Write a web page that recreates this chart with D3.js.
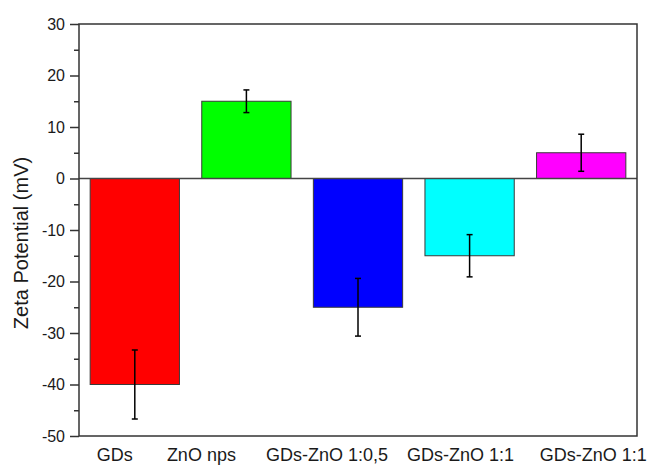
<!DOCTYPE html>
<html>
<head>
<meta charset="utf-8">
<script src="https://cdn.jsdelivr.net/npm/d3@7"></script>
<style>
  body { margin: 0; background: #fff; }
  svg { display: block; font-family: 'Liberation Sans', Arial, sans-serif; }
</style>
</head>
<body>
<div id="chart"></div>
<script>
// chart data
var samples    = ['GDs', 'ZnO nps', 'GDs-ZnO 1:0,5', 'GDs-ZnO 1:1', 'GDs-ZnO 1:1'];
var zeta       = [-40, 15, -25, -15, 5];
var zetaError  = [6.7, 2.2, 5.6, 4.1, 3.6];
var barColors  = ['#ff0000', '#00ff00', '#0000ff', '#00ffff', '#ff00ff'];
var yTicks     = [-50, -40, -30, -20, -10, 0, 10, 20, 30];
var yMinor     = [-45, -35, -25, -15, -5, 5, 15, 25];
var yTitle     = 'Zeta Potential (mV)';

var zetaChart = {

  /* ---
   * Chart configuration values
   */
  config: {
    width:       651,
    height:      465,
    left:        79,   // plot frame edges
    right:       637,
    top:         24,
    bottom:      436,
    majorTick:   9,
    minorTick:   5,
    capWidth:    6,    // error bar cap
    textColor:   '#1a1a1a',
    frameColor:  '#333',
    // the category labels in the figure sit a little off the bar centres
    labelShift:  [-20, -45, -31, -9, 12]
  },

  display: function(el) {
    this.svg = d3.select(el).append('svg')
                 .attr('width', this.config.width)
                 .attr('height', this.config.height);

    this.createScales();
    this.createBars();
    this.createZeroLine();
    this.createFrame();
    this.createErrorBars();
    this.createAxes();
    this.createLabels();
  },

  createScales: function() {
    var c = this.config;
    this.x = d3.scaleBand()
               .domain(d3.range(samples.length))
               .range([c.left, c.right])
               .paddingInner(0.2)
               .paddingOuter(0.1);
    this.y = d3.scaleLinear()
               .domain([-50, 30])
               .range([c.bottom, c.top]);
  },

  createBars: function() {
    var x = this.x, y = this.y;
    this.svg.append('g').selectAll('rect').data(zeta).enter().append('rect')
            .attr('x',      (d, i) => x(i))
            .attr('width',  x.bandwidth())
            .attr('y',      (d) => Math.min(y(d), y(0)))
            .attr('height', (d) => Math.abs(y(d) - y(0)))
            .attr('fill',   (d, i) => barColors[i])
            .attr('stroke', '#3a3a3a')
            .attr('stroke-width', 1);
  },

  createZeroLine: function() {
    var c = this.config;
    this.svg.append('line')
            .attr('x1', c.left).attr('x2', c.right)
            .attr('y1', this.y(0)).attr('y2', this.y(0))
            .attr('stroke', '#444')
            .attr('stroke-width', 1.5);
  },

  createFrame: function() {
    var c = this.config;
    this.svg.append('rect')
            .attr('x', c.left).attr('y', c.top)
            .attr('width', c.right - c.left)
            .attr('height', c.bottom - c.top)
            .attr('fill', 'none')
            .attr('stroke', c.frameColor)
            .attr('stroke-width', 1.5);
  },

  createErrorBars: function() {
    var x = this.x, y = this.y, half = this.config.capWidth / 2;
    var g = this.svg.append('g').attr('stroke', '#000').attr('stroke-width', 1.5);
    var bars = g.selectAll('g').data(zeta).enter().append('g')
                .attr('transform', (d, i) => 'translate(' + (x(i) + x.bandwidth() / 2) + ',0)');

    bars.append('line')
        .attr('y1', (d, i) => y(d + zetaError[i]))
        .attr('y2', (d, i) => y(d - zetaError[i]));
    bars.append('line')
        .attr('x1', -half).attr('x2', half)
        .attr('y1', (d, i) => y(d + zetaError[i]))
        .attr('y2', (d, i) => y(d + zetaError[i]));
    bars.append('line')
        .attr('x1', -half).attr('x2', half)
        .attr('y1', (d, i) => y(d - zetaError[i]))
        .attr('y2', (d, i) => y(d - zetaError[i]));
  },

  createAxes: function() {
    var c = this.config;

    var major = this.svg.append('g')
                    .attr('transform', 'translate(' + c.left + ',0)')
                    .call(d3.axisLeft(this.y)
                            .tickValues(yTicks)
                            .tickSize(c.majorTick)
                            .tickPadding(5)
                            .tickFormat((d) => String(d)));
    major.select('.domain').remove();
    major.selectAll('line').attr('stroke', c.frameColor).attr('stroke-width', 1.5);
    major.selectAll('text')
         .attr('fill', c.textColor)
         .style('font-size', '16px')
         .style('font-family', "'Liberation Sans', Arial, sans-serif");

    var minor = this.svg.append('g')
                    .attr('transform', 'translate(' + c.left + ',0)')
                    .call(d3.axisLeft(this.y)
                            .tickValues(yMinor)
                            .tickSize(c.minorTick)
                            .tickFormat(''));
    minor.select('.domain').remove();
    minor.selectAll('line').attr('stroke', c.frameColor).attr('stroke-width', 1.5);

    this.svg.append('text')
            .attr('transform', 'translate(28,' + ((c.top + c.bottom) / 2 + 13) + ') rotate(-90)')
            .attr('text-anchor', 'middle')
            .attr('fill', c.textColor)
            .style('font-size', '20px')
            .text(yTitle);
  },

  createLabels: function() {
    var x = this.x, c = this.config;
    this.svg.append('g').selectAll('text').data(samples).enter().append('text')
            .attr('x', (d, i) => x(i) + x.bandwidth() / 2 + c.labelShift[i])
            .attr('y', c.bottom + 25)
            .attr('text-anchor', 'middle')
            .attr('fill', c.textColor)
            .style('font-size', '18px')
            .text((d) => d);
  }
};

zetaChart.display('#chart');
</script>
</body>
</html>
